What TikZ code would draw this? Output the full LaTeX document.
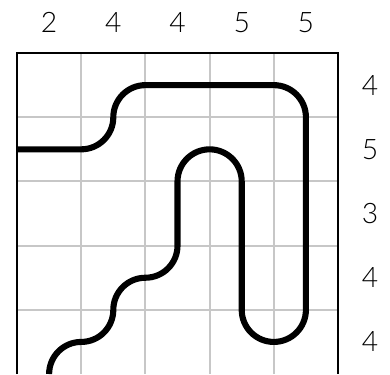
\documentclass[tikz,border=0pt]{standalone}
\usepackage{fontspec}
\setmainfont{Lato Light}
\usetikzlibrary{positioning}

\begin{document}
\begin{tikzpicture}[
  clue/.style={font=\fontsize{12.5}{12.5}\selectfont, inner sep=0pt},
  gridline/.style={draw=black!22, line width=0.9pt},
  frame/.style={draw=black, line width=0.8pt},
  track/.style={draw=black, line width=2.7pt, line join=round}
]
\useasboundingbox (-0.265,0) rectangle (5.81,5.826);
% grid
\foreach \i in {1,...,4} {
  \draw[gridline] (\i,0) -- (\i,5);
  \draw[gridline] (0,\i) -- (5,\i);
}
\draw[frame] (0,0) -- (0,5) -- (5,5) -- (5,0);
% column and row clues
\foreach \n/\v in {1/2, 2/4, 3/4, 4/5, 5/5}
  \node[clue] (col\n) at (\n-0.5,5.48) {\v};
\foreach \n/\v in {1/4, 2/5, 3/3, 4/4, 5/4}
  \node[clue] (row\n) at (5.5,5.5-\n) {\v};
% the track
\draw[track] (0,3.5) -- (1,3.5)
  arc[start angle=-90, end angle=0, radius=0.5]
  arc[start angle=180, end angle=90, radius=0.5] -- (4,4.5)
  arc[start angle=90, end angle=0, radius=0.5] -- (4.5,1)
  arc[start angle=0, end angle=-180, radius=0.5] -- (3.5,3)
  arc[start angle=0, end angle=180, radius=0.5] -- (2.5,2)
  arc[start angle=0, end angle=-90, radius=0.5]
  arc[start angle=90, end angle=180, radius=0.5]
  arc[start angle=0, end angle=-90, radius=0.5]
  arc[start angle=90, end angle=180, radius=0.5];
\end{tikzpicture}
\end{document}
